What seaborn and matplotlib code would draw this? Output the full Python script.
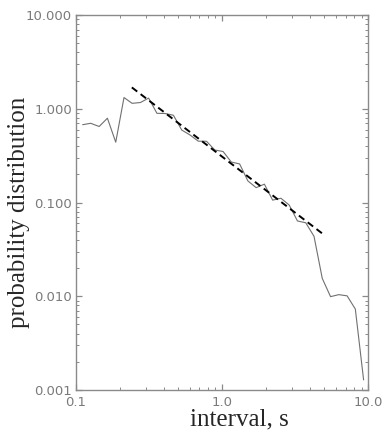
import matplotlib
matplotlib.use("Agg")
import matplotlib.pyplot as plt
from matplotlib.ticker import LogLocator, FormatStrFormatter, NullFormatter
import pandas as pd
import seaborn as sns

interval = [0.111, 0.126, 0.144, 0.164, 0.187, 0.213, 0.242, 0.276, 0.314,
            0.358, 0.408, 0.464, 0.529, 0.603, 0.687, 0.782, 0.891, 1.015,
            1.156, 1.317, 1.500, 1.709, 1.946, 2.217, 2.526, 2.877, 3.278,
            3.734, 4.254, 4.845, 5.520, 6.287, 7.164, 8.158, 9.295]
prob = [0.676, 0.700, 0.647, 0.793, 0.440, 1.318, 1.143, 1.166, 1.300,
        0.894, 0.890, 0.853, 0.593, 0.525, 0.451, 0.450, 0.363, 0.350,
        0.270, 0.258, 0.170, 0.144, 0.157, 0.106, 0.111, 0.094, 0.0635,
        0.0608, 0.0436, 0.0155, 0.0099, 0.0104, 0.0101, 0.0073, 0.00128]

# power-law fit endpoints
fit_x = [0.241, 4.82]
fit_y = [1.69, 0.047]

df = pd.DataFrame({"interval": interval, "prob": prob})
fit = pd.DataFrame({"interval": fit_x, "prob": fit_y})

sns.set_style("ticks")
plt.rcParams["font.family"] = ["DejaVu Sans"]

fig = plt.figure(figsize=(3.82, 4.37), dpi=100)
ax = fig.add_axes([0.199, 0.1076, 0.765, 0.858])

sns.lineplot(data=df, x="interval", y="prob", color="#707070", lw=0.8, ax=ax)
sns.lineplot(data=fit, x="interval", y="prob", color="black", lw=1.4,
             ax=ax, dashes=False, linestyle=(0, (3.5, 2.2)))

ax.set_xscale("log")
ax.set_yscale("log")
ax.set_xlim(0.1, 10)
ax.set_ylim(0.001, 10)

grey = "#8a8a8a"
for s in ax.spines.values():
    s.set_visible(True)
    s.set_color(grey)
    s.set_linewidth(1.0)

ax.xaxis.set_major_locator(LogLocator(base=10, numticks=10))
ax.yaxis.set_major_locator(LogLocator(base=10, numticks=10))
ax.xaxis.set_minor_locator(LogLocator(base=10, subs=range(2, 10), numticks=20))
ax.yaxis.set_minor_locator(LogLocator(base=10, subs=range(2, 10), numticks=20))
ax.xaxis.set_major_formatter(FormatStrFormatter("%.1f"))
ax.yaxis.set_major_formatter(FormatStrFormatter("%.3f"))
ax.xaxis.set_minor_formatter(NullFormatter())
ax.yaxis.set_minor_formatter(NullFormatter())

ax.tick_params(which="both", direction="in", top=True, right=True,
               color=grey, labelcolor="#7a7a7a", labelsize=9.5)
ax.tick_params(which="major", length=4.5, width=0.9)
ax.tick_params(which="minor", length=2.5, width=0.7)
ax.tick_params(axis="x", pad=4.5)
ax.tick_params(axis="y", pad=3)

ax.set_xlabel("interval, s", fontsize=18, family="Liberation Serif")
ax.set_ylabel("probability distribution", fontsize=18,
              family="Liberation Serif")
ax.xaxis.set_label_coords(0.56, -0.05)
ax.yaxis.set_label_coords(-0.158, 0.475)

fig.savefig("out.png", dpi=100)
